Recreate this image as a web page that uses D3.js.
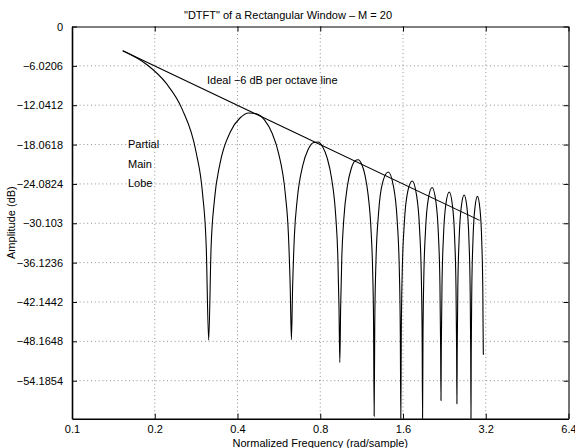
<!DOCTYPE html>
<html>
<head>
<meta charset="utf-8">
<script src="https://cdn.jsdelivr.net/npm/d3@7"></script>
<style>
  html, body { margin: 0; padding: 0; background: #fff; }
  svg { display: block; }
  text { font-family: "Liberation Sans", Arial, Helvetica, sans-serif; fill: #000; }
</style>
</head>
<body>
<svg id="chart" width="575" height="448"></svg>
<script>
// ---- data ----
const xTicks = [0.1, 0.2, 0.4, 0.8, 1.6, 3.2, 6.4];
const yTicks = [0, -6.0206, -12.0412, -18.0618, -24.0824, -30.103, -36.1236, -42.1442, -48.1648, -54.1854];

// rectangular window magnitude response, M = 20 (frequency in rad/sample, amplitude in dB)
const freq = [
  0.1530, 0.1885, 0.2199, 0.2513, 0.2827, 0.2985, 0.3079, 0.3142,
  0.3204, 0.3299, 0.3456, 0.3770, 0.4084, 0.4398, 0.4712, 0.5027, 0.5341, 0.5655, 0.5969, 0.6126, 0.6220, 0.6283,
  0.6346, 0.6440, 0.6597, 0.6912, 0.7226, 0.7540, 0.7854, 0.8168, 0.8482, 0.8796, 0.9111, 0.9268, 0.9362, 0.9425,
  0.9488, 0.9582, 0.9739, 1.0053, 1.0367, 1.0681, 1.0996, 1.1310, 1.1624, 1.1938, 1.2252, 1.2409, 1.2504, 1.2566,
  1.2629, 1.2755, 1.3038, 1.3509, 1.4137, 1.4765, 1.5237, 1.5519, 1.5645, 1.5708,
  1.5771, 1.5896, 1.6179, 1.6650, 1.7279, 1.7907, 1.8378, 1.8661, 1.8787, 1.8850,
  1.8912, 1.9038, 1.9321, 1.9792, 2.0420, 2.1049, 2.1520, 2.1803, 2.1928, 2.1991,
  2.2054, 2.2180, 2.2462, 2.2934, 2.3562, 2.4190, 2.4662, 2.4944, 2.5070, 2.5133,
  2.5196, 2.5321, 2.5604, 2.6075, 2.6704, 2.7332, 2.7803, 2.8086, 2.8212, 2.8274,
  2.8337, 2.8463, 2.8745, 2.9217, 2.9845, 3.0473, 3.0945, 3.1227, 3.1353, 3.1416
];
const amplitude = [
  -3.71, -5.93, -8.67, -12.60, -19.20, -25.57, -33.77, -48.0,
  -34.12, -26.44, -20.93, -16.09, -14.00, -13.24, -13.38, -14.37, -16.29, -19.55, -25.59, -31.72, -39.78, -47.9,
  -39.94, -32.14, -26.43, -21.24, -18.83, -17.78, -17.68, -18.44, -20.15, -23.22, -29.09, -35.14, -43.15, -51.4,
  -43.25, -35.40, -29.62, -24.29, -21.76, -20.59, -20.38, -21.04, -22.65, -25.64, -31.41, -37.42, -45.41, -59.6,
  -45.48, -36.06, -28.54, -23.78, -22.27, -24.42, -29.66, -37.47, -47.02, -60,
  -47.08, -37.63, -30.07, -25.24, -23.64, -25.71, -30.89, -38.66, -48.20, -60,
  -48.24, -38.78, -31.19, -26.30, -24.64, -26.64, -31.77, -39.52, -49.04, -57.2,
  -49.07, -39.60, -31.98, -27.05, -25.33, -27.28, -32.38, -40.10, -49.62, -57.7,
  -49.63, -40.15, -32.51, -27.55, -25.78, -27.68, -32.74, -40.44, -49.95, -60,
  -49.96, -40.47, -32.80, -27.81, -25.99, -27.85, -32.88, -40.56, -50.06, -50.2
];

// ideal -6 dB per octave line endpoints
const idealFreq = [0.153, 3.04];
const idealAmp = [-3.71, -29.66];

const titleText = "\"DTFT\" of a Rectangular Window \u2013 M = 20";
const xLabelText = "Normalized Frequency (rad/sample)";
const yLabelText = "Amplitude (dB)";
const annoLine = "Ideal \u22126 dB per octave line";
const annoLobe = ["Partial", "Main", "Lobe"];

// ---- drawing ----
const svg = d3.select("#chart");
const L = 72, R = 568.5, T = 26.5, B = 418.7;

const x = d3.scaleLog().domain([0.1, 6.4]).range([L, R]);
const y = d3.scaleLinear().domain([-60, 0]).range([B, T]);

svg.append("rect").attr("width", 575).attr("height", 448).attr("fill", "#fff");

svg.append("defs").append("clipPath").attr("id", "clip")
  .append("rect").attr("x", L).attr("y", T).attr("width", R - L).attr("height", B - T);

// grid
const grid = svg.append("g").attr("stroke", "#444").attr("stroke-width", 0.6)
  .attr("stroke-dasharray", "1,2.8");
xTicks.filter(v => v > 0.1 && v < 6.4).forEach(v => {
  grid.append("line").attr("x1", x(v)).attr("x2", x(v)).attr("y1", T).attr("y2", B);
});
yTicks.filter(v => v < 0).forEach(v => {
  grid.append("line").attr("x1", L).attr("x2", R).attr("y1", y(v)).attr("y2", y(v));
});

// axes (inward ticks, mirrored)
const fmtY = v => v === 0 ? "0" : "\u2212" + String(Math.abs(v));
const axB = d3.axisBottom(x).tickValues(xTicks).tickSizeInner(-5).tickSizeOuter(0)
  .tickPadding(7).tickFormat(d => String(d));
const axT = d3.axisTop(x).tickValues(xTicks).tickSizeInner(-5).tickSizeOuter(0).tickFormat("");
const axLft = d3.axisLeft(y).tickValues(yTicks).tickSizeInner(-5).tickSizeOuter(0)
  .tickPadding(9).tickFormat(fmtY);
const axRgt = d3.axisRight(y).tickValues(yTicks).tickSizeInner(-5).tickSizeOuter(0).tickFormat("");

function styleAxis(g, w) {
  g.select(".domain").attr("stroke", "#000").attr("stroke-width", w);
  g.selectAll(".tick line").attr("stroke", "#000").attr("stroke-width", 1);
  g.selectAll(".tick text").attr("font-size", 11).attr("font-family", "Liberation Sans, Arial, sans-serif").attr("fill", "#000");
}
styleAxis(svg.append("g").attr("transform", `translate(0,${B})`).call(axB), 1.6);
styleAxis(svg.append("g").attr("transform", `translate(0,${T})`).call(axT), 1.1);
styleAxis(svg.append("g").attr("transform", `translate(${L},0)`).call(axLft), 1.6);
styleAxis(svg.append("g").attr("transform", `translate(${R},0)`).call(axRgt), 1.1);

// curve
const pts = freq.map((f, i) => [f, amplitude[i]]);
const line = d3.line().x(d => x(d[0])).y(d => y(d[1])).curve(d3.curveMonotoneX);
svg.append("path").datum(pts).attr("clip-path", "url(#clip)")
  .attr("d", line).attr("fill", "none").attr("stroke", "#000").attr("stroke-width", 1.1);

// ideal line
const idealPts = idealFreq.map((f, i) => [f, idealAmp[i]]);
svg.append("path").datum(idealPts)
  .attr("d", d3.line().x(d => x(d[0])).y(d => y(d[1])))
  .attr("fill", "none").attr("stroke", "#000").attr("stroke-width", 1.1);

// texts
svg.append("text").attr("x", 288).attr("y", 19).attr("text-anchor", "middle")
  .attr("font-size", 11).text(titleText);
svg.append("text").attr("x", (L + R) / 2).attr("y", 446.5).attr("text-anchor", "middle")
  .attr("font-size", 11).text(xLabelText);
svg.append("text").attr("transform", `translate(15,${(T + B) / 2}) rotate(-90)`)
  .attr("text-anchor", "middle").attr("font-size", 11).text(yLabelText);
svg.append("text").attr("x", 207).attr("y", 84).attr("font-size", 11).text(annoLine);
annoLobe.forEach((t, i) => {
  svg.append("text").attr("x", 128).attr("y", 148 + i * 19.6).attr("font-size", 11).text(t);
});
</script>
</body>
</html>
